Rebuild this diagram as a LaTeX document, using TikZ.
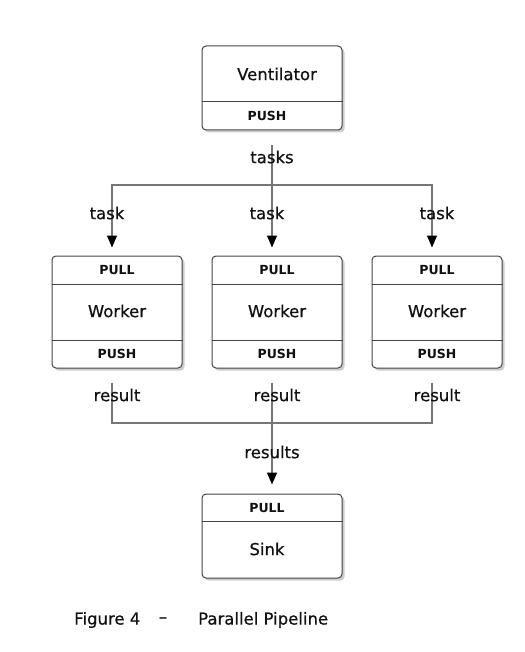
\documentclass[tikz,border=0pt]{standalone}
\usepackage{fontspec}
\setmainfont{DejaVu Sans}
\newfontfamily\heavyfont[FakeBold=0.6]{DejaVu Sans}
\usetikzlibrary{positioning,arrows.meta,shadows,calc}
\definecolor{cBox}{HTML}{444444}
\definecolor{cWire}{HTML}{777777}
\definecolor{cText}{HTML}{111111}
\tikzset{
  unit/.style={rounded corners=4pt,draw=cBox,fill=white,line width=1pt,minimum width=130pt,inner sep=0pt,drop shadow={shadow xshift=2.5pt,shadow yshift=-2.5pt,opacity=0.4}},
  sep/.style={draw=cBox,line width=1pt},
  cname/.style={font=\heavyfont\fontsize{16.5}{19}\selectfont,text=cText},
  port/.style={font=\fontsize{12.5}{15}\selectfont\bfseries,text=cText},
  wire/.style={draw=cWire,line width=1.2pt},
  arr/.style={wire,-{Triangle[length=12pt,width=10pt,color=black]}},
  wlbl/.style={font=\heavyfont\fontsize{16.5}{19}\selectfont,text=cText,inner sep=0pt},
}

\begin{document}
\begin{tikzpicture}[x=1pt,y=-1pt]
  \useasboundingbox[fill=white] (0,0) rectangle (524,652);
  % ventilator
  \node[unit,minimum width=140pt,minimum height=84pt] (vent) at (272,88) {};
  \draw[sep] (vent.west |- 0,102) -- (vent.east |- 0,102);
  \node[cname] (ventname) at (277,74) {Ventilator};
  \node[port] (ventpush) at (267,116) {PUSH};
  % workers
  \node[unit,minimum height=112pt] (w1) at (117,312) {};
  \node[unit,minimum height=112pt] (w2) at (277,312) {};
  \node[unit,minimum height=112pt] (w3) at (437,312) {};
  \draw[sep] (w1.west |- 0,284) -- (w1.east |- 0,284) (w1.west |- 0,340) -- (w1.east |- 0,340);
  \draw[sep] (w2.west |- 0,284) -- (w2.east |- 0,284) (w2.west |- 0,340) -- (w2.east |- 0,340);
  \draw[sep] (w3.west |- 0,284) -- (w3.east |- 0,284) (w3.west |- 0,340) -- (w3.east |- 0,340);
  \node[port] (w1pull) at (117,270) {PULL};
  \node[cname] (w1name) at (117,311) {Worker};
  \node[port] (w1push) at (117,354) {PUSH};
  \node[port] (w2pull) at (277,270) {PULL};
  \node[cname] (w2name) at (277,311) {Worker};
  \node[port] (w2push) at (277,354) {PUSH};
  \node[port] (w3pull) at (437,270) {PULL};
  \node[cname] (w3name) at (437,311) {Worker};
  \node[port] (w3push) at (437,354) {PUSH};
  % sink
  \node[unit,minimum width=140pt,minimum height=84pt] (sink) at (272,536) {};
  \draw[sep] (sink.west |- 0,521) -- (sink.east |- 0,521);
  \node[port] (sinkpull) at (267,508) {PULL};
  \node[cname] (sinkname) at (267,549) {Sink};
  % fan-out / fan-in
  \coordinate (split) at (272,185);
  \coordinate (join) at (272,423);
  \draw[wire,shorten <=15pt] (vent) -- (split);
  \draw[arr,shorten >=8pt] (split) -| ([xshift=-5pt]w1.north);
  \draw[arr,shorten >=8pt] (split) -- ([xshift=-5pt]w2.north);
  \draw[arr,shorten >=8pt] (split) -| ([xshift=-5pt]w3.north);
  \draw[wire,shorten <=14pt] ([xshift=-5pt]w1.south) |- (join);
  \draw[wire,shorten <=14pt] ([xshift=-5pt]w2.south) -- (join);
  \draw[wire,shorten <=14pt] ([xshift=-5pt]w3.south) |- (join);
  \draw[arr,shorten >=9pt] (join) -- (sink);
  % labels
  \node[wlbl] (ltasks) at (272,157) {tasks};
  \node[wlbl] (ltask1) at (107,213) {task};
  \node[wlbl] (ltask2) at (267,213) {task};
  \node[wlbl] (ltask3) at (437,213) {task};
  \node[wlbl] (lres1) at (117,395) {result};
  \node[wlbl] (lres2) at (277,395) {result};
  \node[wlbl] (lres3) at (437,395) {result};
  \node[wlbl] (lresults) at (272,452) {results};
  % caption
  \node[wlbl,anchor=west] (capfig) at (74,620) {Figure 4};
  \node[wlbl] (capdash) at (163,620) {–};
  \node[wlbl,anchor=west] (captitle) at (198,620) {Parallel Pipeline};
\end{tikzpicture}
\end{document}
